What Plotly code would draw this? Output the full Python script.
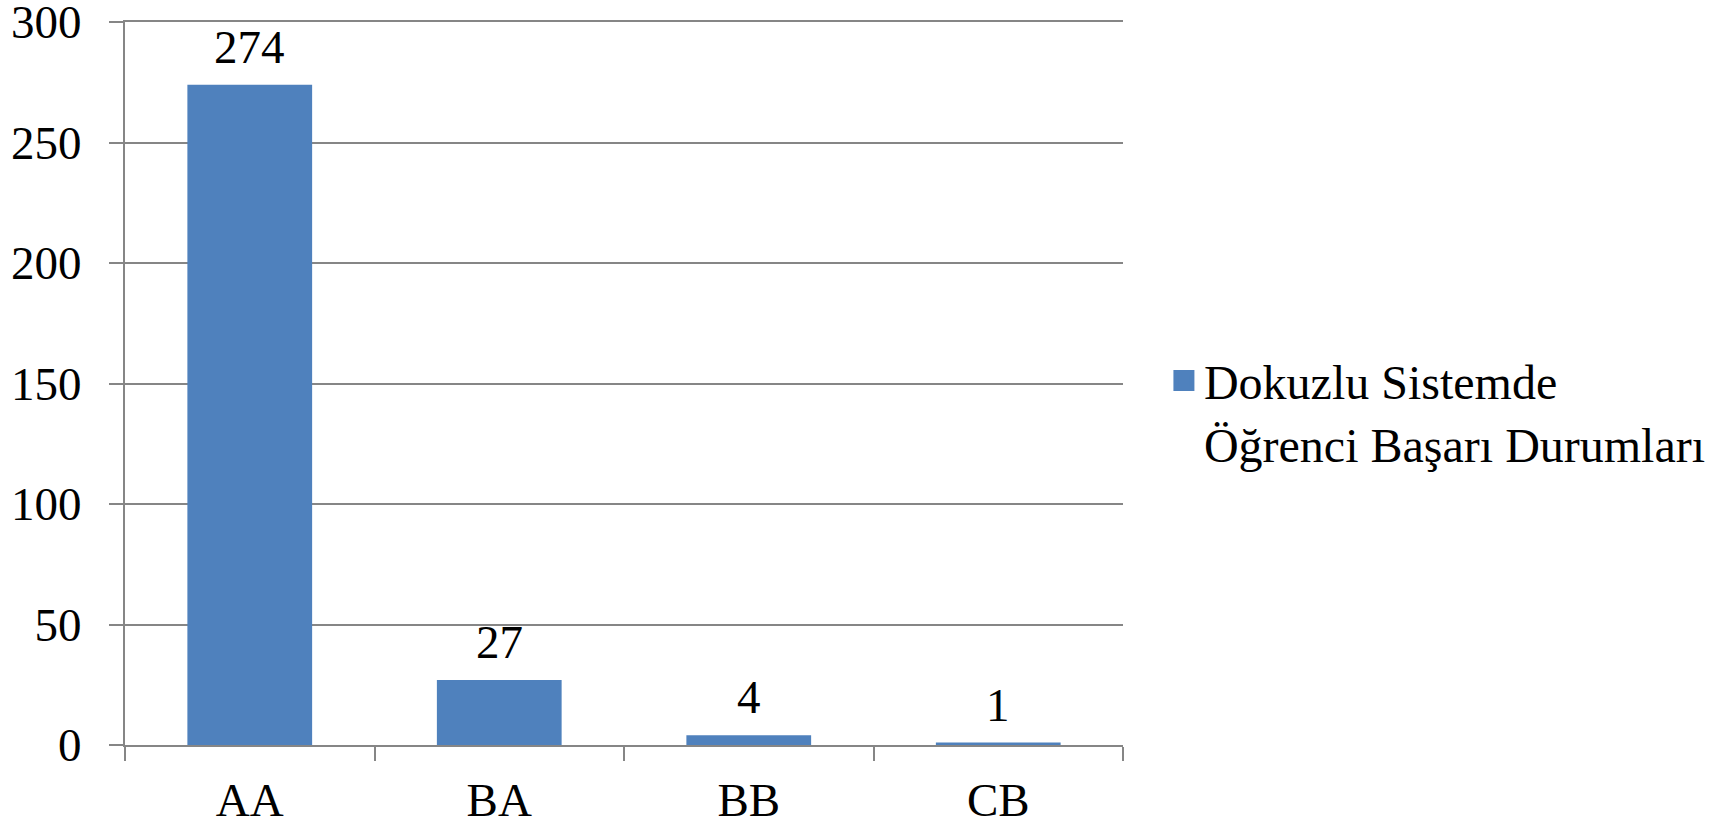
import plotly.graph_objects as go

categories = ["AA", "BA", "BB", "CB"]
values = [274, 27, 4, 1]
series_name = "Dokuzlu Sistemde<br>Öğrenci Başarı Durumları"
y_ticks = [0, 50, 100, 150, 200, 250, 300]

FONT = "Liberation Serif, Times New Roman, serif"
GRID = "#868686"
BAR = "#4F81BD"

fig = go.Figure()
fig.add_trace(go.Bar(
    x=categories, y=values, name=series_name,
    marker=dict(color=BAR, line=dict(width=0)),
    showlegend=False, legendgroup="s",
))
# legend entry for the series (larger square key)
fig.add_trace(go.Scatter(
    x=[None], y=[None], mode="markers", name=series_name, legendgroup="s",
    marker=dict(symbol="square", size=16, color=BAR, line=dict(color=BAR, width=5)),
    showlegend=True, hoverinfo="skip",
))

for c, v in zip(categories, values):
    fig.add_annotation(x=c, y=v, text=str(v), showarrow=False,
                       yanchor="bottom", yshift=10,
                       font=dict(family=FONT, size=47, color="black"))

fig.update_layout(
    width=1727, height=827,
    margin=dict(l=125, r=604, t=22, b=82, autoexpand=False),
    paper_bgcolor="white", plot_bgcolor="white",
    bargap=0.5,
    font=dict(family=FONT, size=47, color="black"),
    legend=dict(x=1.041, xanchor="left", y=0.461, yanchor="middle",
                valign="top", itemsizing="trace",
                font=dict(family=FONT, size=48, color="black"),
                bgcolor="rgba(0,0,0,0)", tracegroupgap=0),
)
fig.update_xaxes(
    showgrid=False, showline=True, linecolor=GRID, linewidth=2, mirror=True,
    ticks="outside", ticklen=14, tickwidth=2, tickcolor=GRID,
    tickson="boundaries", ticklabelstandoff=13, automargin=False,
    ticklabeloverflow="allow",
    tickfont=dict(family=FONT, size=47, color="black"),
)
fig.update_yaxes(
    range=[0, 300], tickvals=y_ticks, showgrid=True, gridcolor=GRID, gridwidth=2,
    showline=True, linecolor=GRID, linewidth=2,
    ticks="outside", ticklen=14, tickwidth=2, tickcolor=GRID,
    ticklabelstandoff=18, zeroline=False, automargin=False,
    ticklabeloverflow="allow",
    tickfont=dict(family=FONT, size=47, color="black"),
)

fig.write_html("out.html", config={"displayModeBar": False},
               post_script="document.body.style.margin='0px';")
